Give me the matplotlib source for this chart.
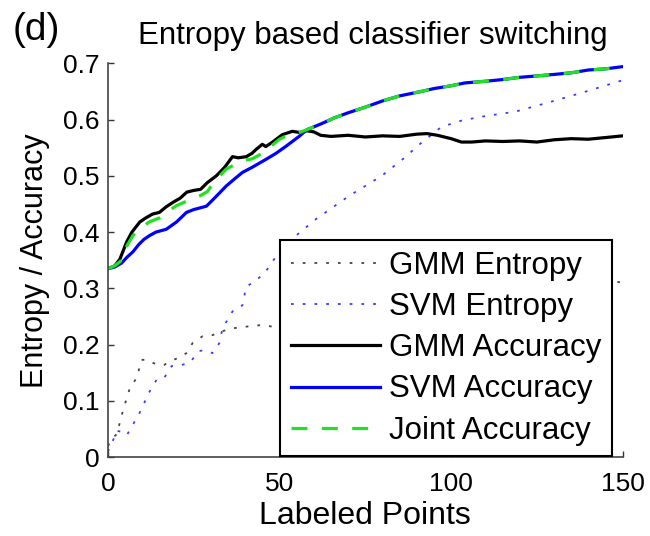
import matplotlib
matplotlib.use("Agg")
import matplotlib.pyplot as plt

plt.rcParams["font.family"] = ["Liberation Sans", "DejaVu Sans"]

# GMM accuracy (black solid)
gmm_acc_x = [0, 2, 3.5, 5.5, 7, 9.3, 11, 13, 15, 17, 19, 21, 23, 25, 27, 29, 31.6,
             34, 36.3, 38, 40.3, 42, 43.2, 45, 46, 48, 50.8, 53.7, 56, 58, 60, 62,
             65, 70, 75, 80, 85, 90, 93, 96, 100, 103, 106, 110, 115, 120, 125,
             130, 135, 140, 145, 150]
gmm_acc_y = [0.335, 0.34, 0.352, 0.383, 0.40, 0.418, 0.425, 0.432, 0.435, 0.445,
             0.453, 0.46, 0.471, 0.474, 0.476, 0.488, 0.50, 0.515, 0.534, 0.532,
             0.534, 0.54, 0.547, 0.556, 0.552, 0.56, 0.573, 0.579, 0.577, 0.58,
             0.578, 0.572, 0.57, 0.572, 0.569, 0.571, 0.57, 0.574, 0.575, 0.572,
             0.566, 0.56, 0.56, 0.562, 0.561, 0.562, 0.56, 0.564, 0.566, 0.565,
             0.568, 0.571]

# SVM accuracy (blue solid)
svm_acc_x = [0, 2, 4, 5.5, 7.3, 9, 10.5, 12.2, 14, 17, 20, 22.9, 25, 28.7, 31,
             34.5, 37, 39.2, 42, 46, 49, 52, 55.7, 58, 62, 66, 70, 75, 80, 85,
             91.4, 95, 100, 104, 110, 115, 120, 128, 135, 140, 145, 150]
svm_acc_y = [0.335, 0.338, 0.345, 0.355, 0.365, 0.378, 0.387, 0.394, 0.40, 0.405,
             0.418, 0.435, 0.44, 0.446, 0.46, 0.482, 0.495, 0.506, 0.515, 0.529,
             0.54, 0.553, 0.57, 0.582, 0.592, 0.603, 0.612, 0.622, 0.633, 0.642,
             0.65, 0.655, 0.66, 0.665, 0.668, 0.671, 0.675, 0.679, 0.683, 0.688,
             0.69, 0.694]

# Joint accuracy (green dashed)
joint_x = [0, 2, 4, 5.5, 7.3, 9.3, 12, 15, 17, 20, 23, 26.7, 29, 31, 34.5, 37, 40,
           42, 45, 48, 50, 52, 55, 58, 62, 66, 70, 75, 80, 85, 91.4, 95, 100, 104,
           110, 115, 120, 128, 135, 140, 145, 150]
joint_y = [0.335, 0.34, 0.35, 0.375, 0.394, 0.405, 0.418, 0.425, 0.435, 0.447,
           0.455, 0.464, 0.472, 0.49, 0.512, 0.52, 0.528, 0.53, 0.54, 0.555, 0.565,
           0.571, 0.575, 0.582, 0.592, 0.603, 0.612, 0.622, 0.633, 0.642, 0.65,
           0.655, 0.66, 0.665, 0.668, 0.671, 0.675, 0.679, 0.683, 0.688, 0.69,
           0.694]

# GMM entropy (black dotted)
gmm_ent_x = [0, 1.5, 2.6, 4.4, 6.4, 8.4, 9.8, 11.6, 13, 14.5, 16.4, 18, 20.3, 22.9,
             24.7, 27.6, 30.5, 33.4, 36.3, 40.3, 45, 47.9, 55, 65, 75, 85, 95, 105,
             115, 125, 135, 145, 150]
gmm_ent_y = [0.02, 0.035, 0.041, 0.083, 0.123, 0.141, 0.173, 0.173, 0.168, 0.164,
             0.164, 0.17, 0.176, 0.185, 0.203, 0.215, 0.217, 0.224, 0.229, 0.232,
             0.235, 0.232, 0.24, 0.25, 0.26, 0.27, 0.28, 0.29, 0.295, 0.30, 0.305,
             0.315, 0.31]

# SVM entropy (blue dotted)
svm_ent_x = [0, 1.5, 2.6, 4, 5.5, 7.3, 9.8, 11.6, 14.2, 16.4, 18.6, 21, 23.8, 26.7,
             28.5, 30.5, 32.5, 33.4, 36.3, 39.2, 40.3, 43.2, 46, 47.9, 49.9, 53.7,
             60.6, 70.2, 79.8, 86, 91.4, 97.2, 103, 108.8, 118.7, 128.2, 137.8,
             148.5, 150]
svm_ent_y = [0.01, 0.03, 0.047, 0.045, 0.039, 0.058, 0.085, 0.111, 0.138, 0.141,
             0.162, 0.163, 0.168, 0.189, 0.19, 0.185, 0.203, 0.229, 0.259, 0.27,
             0.303, 0.314, 0.33, 0.347, 0.365, 0.388, 0.423, 0.464, 0.5, 0.53,
             0.559, 0.587, 0.598, 0.605, 0.614, 0.63, 0.647, 0.667, 0.67]

x_ticks = [0, 50, 100, 150]
y_ticks = [0, 0.1, 0.2, 0.3, 0.4, 0.5, 0.6, 0.7]
y_ticklabels = ["0", "0.1", "0.2", "0.3", "0.4", "0.5", "0.6", "0.7"]

fig = plt.figure(figsize=(6.5, 5.36), dpi=100)
ax = fig.add_axes([0.166, 0.147, 0.792, 0.735])

dots = (0, (1.5, 5))
ax.plot(gmm_ent_x, gmm_ent_y, color="#444444", lw=1.3, ls=dots, label="GMM Entropy")
ax.plot(svm_ent_x, svm_ent_y, color="#3a3aff", lw=1.3, ls=dots, label="SVM Entropy")
ax.plot(gmm_acc_x, gmm_acc_y, color="black", lw=2.3, label="GMM Accuracy")
ax.plot(svm_acc_x, svm_acc_y, color="#0000ff", lw=2.3, label="SVM Accuracy")
ax.plot(joint_x, joint_y, color="#22e022", lw=2.3, ls=(0, (5, 4.5)),
        label="Joint Accuracy")

ax.set_xlim(0, 150)
ax.set_ylim(0, 0.7)
ax.set_xticks(x_ticks)
ax.set_yticks(y_ticks)
ax.set_yticklabels(y_ticklabels)
ax.tick_params(direction="in", length=4, width=1, labelsize=19, colors="#333333",
               labelcolor="black")
ax.tick_params(axis="x", pad=11)
ax.tick_params(axis="y", pad=6)
ax.spines["top"].set_visible(False)
ax.spines["right"].set_visible(False)
for s in ("left", "bottom"):
    ax.spines[s].set_color("#444444")
    ax.spines[s].set_linewidth(1.2)

ax.set_xlabel("Labeled Points", fontsize=23, labelpad=3)
ax.set_ylabel("Entropy / Accuracy", fontsize=22, labelpad=9)
ax.set_title("Entropy based classifier switching", fontsize=22.5, pad=14, x=0.515)
fig.text(0.02, 0.925, "(d)", fontsize=28)

leg = ax.legend(loc="lower right", bbox_to_anchor=(0.979, 0.003), fontsize=22.5,
                frameon=True, fancybox=False, framealpha=1, handlelength=2.85,
                handletextpad=0.3, labelspacing=0.36, borderpad=0.33,
                borderaxespad=0)
leg.get_frame().set_edgecolor("black")
leg.get_frame().set_linewidth(1.5)
leg.set_zorder(5)

fig.savefig("out.png", dpi=100)
